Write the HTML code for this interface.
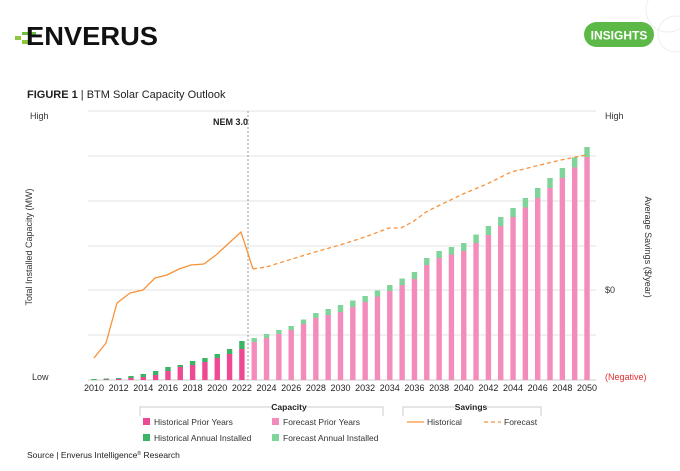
<!DOCTYPE html>
<html><head><meta charset="utf-8"><style>
body{margin:0;width:680px;height:471px;background:#fff;overflow:hidden;font-family:"Liberation Sans",sans-serif}
svg{position:absolute;left:0;top:0}
</style></head><body>
<svg id="s" width="680" height="471" xmlns="http://www.w3.org/2000/svg" font-family="Liberation Sans, sans-serif">
<rect x="15" y="36" width="6" height="4" fill="#8dc63f"/>
<rect x="22" y="32" width="14" height="3" fill="#6cbf3f"/>
<rect x="22" y="40" width="8" height="4" fill="#8dc63f"/>
<text x="26" y="45" font-size="26" font-weight="bold" fill="#111" textLength="132" lengthAdjust="spacingAndGlyphs">ENVERUS</text>
<rect x="584" y="22" width="70" height="25" rx="12.5" fill="#5cb947"/>
<text x="619" y="39.5" font-size="12" font-weight="bold" fill="#fff" text-anchor="middle">INSIGHTS</text>
<circle cx="668" cy="10" r="22" fill="none" stroke="#eee"/>
<circle cx="676" cy="34" r="18" fill="none" stroke="#eee"/>
<text x="27" y="98" font-size="11" fill="#222"><tspan font-weight="bold">FIGURE 1</tspan> | BTM Solar Capacity Outlook</text>
<text x="30" y="119" font-size="9" fill="#333">High</text>
<text x="605" y="119" font-size="9" fill="#333">High</text>
<text x="605" y="293" font-size="9" fill="#333">$0</text>
<text x="32" y="380" font-size="9" fill="#333">Low</text>
<text x="605" y="380" font-size="9" fill="#e03030">(Negative)</text>
<text transform="translate(32,247) rotate(-90)" font-size="9" fill="#333" text-anchor="middle">Total Installed Capacity (MW)</text>
<text transform="translate(645,247) rotate(90)" font-size="9" fill="#333" text-anchor="middle">Average Savings ($/year)</text>
<g id="grid"></g>
<line x1="248" y1="111" x2="248" y2="380" stroke="#999" stroke-dasharray="2,2"/>
<text x="213" y="125" font-size="9" font-weight="bold" fill="#222">NEM 3.0</text>
<g id="bars"></g>
<polyline id="lh" fill="none" stroke="#f7923a" stroke-width="1.3"/>
<polyline id="lf" fill="none" stroke="#f7923a" stroke-width="1.3" stroke-dasharray="4,3"/>
<g id="xl" font-size="9" fill="#222" text-anchor="middle"></g>
<!-- legend -->
<path d="M140 416 V407 H272 M306 407 H383 V416" fill="none" stroke="#ccc"/>
<text x="289" y="410" font-size="8.5" font-weight="bold" text-anchor="middle" fill="#222">Capacity</text>
<path d="M403 416 V407 H456 M487 407 H541 V416" fill="none" stroke="#ccc"/>
<text x="471" y="410" font-size="8.5" font-weight="bold" text-anchor="middle" fill="#222">Savings</text>
<rect x="143" y="418" width="7" height="7" fill="#ed4a93"/><text x="154" y="425" font-size="8.5" fill="#333">Historical Prior Years</text>
<rect x="272" y="418" width="7" height="7" fill="#f38bbb"/><text x="283" y="425" font-size="8.5" fill="#333">Forecast Prior Years</text>
<rect x="143" y="434" width="7" height="7" fill="#3cb465"/><text x="154" y="441" font-size="8.5" fill="#333">Historical Annual Installed</text>
<rect x="272" y="434" width="7" height="7" fill="#7fd49a"/><text x="283" y="441" font-size="8.5" fill="#333">Forecast Annual Installed</text>
<line x1="407" y1="422" x2="424" y2="422" stroke="#f7923a" stroke-width="1.3"/><text x="427" y="425" font-size="8.5" fill="#333">Historical</text>
<line x1="484" y1="422" x2="501" y2="422" stroke="#f7923a" stroke-width="1.3" stroke-dasharray="4,3"/><text x="504" y="425" font-size="8.5" fill="#333">Forecast</text>
<text x="27" y="458" font-size="8.5" fill="#222">Source | Enverus Intelligence<tspan font-size="5" dy="-3">®</tspan><tspan dy="3"> Research</tspan></text>
</svg>
<script>
var N="http://www.w3.org/2000/svg";
function el(t,a,p){var e=document.createElementNS(N,t);for(var k in a)e.setAttribute(k,a[k]);document.getElementById(p).appendChild(e);return e;}
[111,156,201,246,290,335].forEach(function(y){el("line",{x1:88,x2:596,y1:y,y2:y,stroke:"#e3e3e3"},"grid")});
el("line",{x1:88,x2:596,y1:380,y2:380,stroke:"#ccc"},"grid");
var G={2010:379,2011:378.5,2012:378,2013:376,2014:374,2015:371,2016:367,2017:365,2018:361,2019:358,2020:354,2021:349,2022:341,2023:338,2024:334,2026:326,2028:313,2030:305,2032:296,2034:285,2036:272,2037:258,2038:251,2040:243,2042:226,2044:208,2046:188,2048:168,2050:147};
var P={2010:380,2011:379.5,2012:379,2013:378,2014:377,2015:375,2016:371,2017:367,2018:365,2019:362,2020:358,2021:354,2022:349,2023:342,2024:338,2026:330,2028:318,2030:312,2032:302,2034:291,2036:279,2037:265,2038:258,2040:251,2042:235,2044:217,2046:198,2048:178,2050:157};
function interp(M,y){if(M[y]!=null)return M[y];var a=y-1,b=y+1;while(M[a]==null)a--;while(M[b]==null)b++;return M[a]+(M[b]-M[a])*(y-a)/(b-a);}
function X(y){return 94+(y-2010)*12.325;}
for(var y=2010;y<=2050;y++){var x=X(y),g=interp(G,y),p=interp(P,y),h=y<=2022;
el("rect",{x:x-2.7,y:g,width:5.4,height:p-g,fill:h?"#3cb465":"#7fd49a"},"bars");
el("rect",{x:x-2.7,y:p,width:5.4,height:380-p,fill:h?"#ed4a93":"#f38bbb"},"bars");
if(y%2==0){var t=el("text",{x:x,y:391},"xl");t.textContent=y;}}
var H=[[94,358],[106,343],[117,303],[130,293],[143,290],[155,278],[167,275],[179,269],[191,265],[204,264],[216,255],[229,243],[241,232],[253,269]];
var F=[[253,269],[266,267],[315,252],[340,245],[365,237],[389,228],[401,228],[414,221],[426,212],[438,206],[463,194],[487,184],[511,172],[524,169],[536,166],[561,160],[586,155]];
document.getElementById("lh").setAttribute("points",H.join(" "));
document.getElementById("lf").setAttribute("points",F.join(" "));
</script>
</body></html>
